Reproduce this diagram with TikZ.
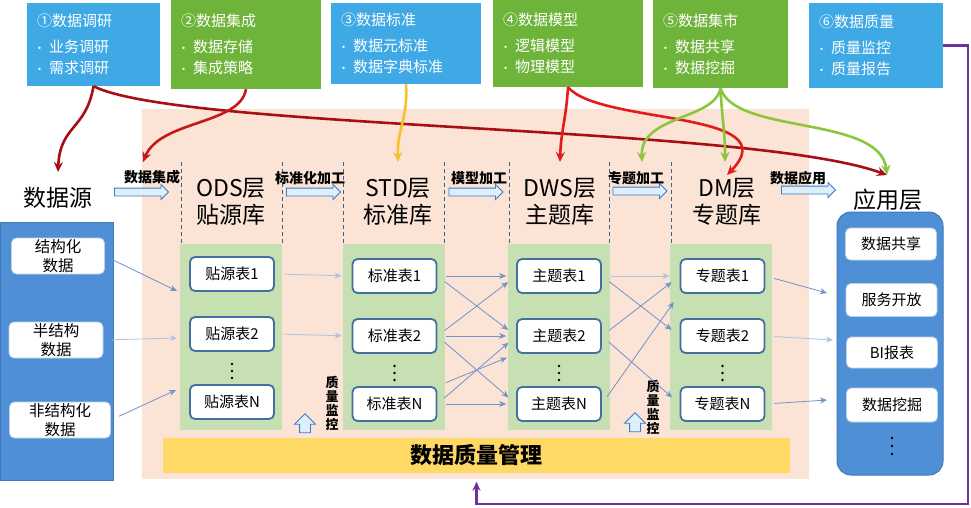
\documentclass[tikz,border=0pt]{standalone}
\usepackage{fontspec}
\setmainfont{Noto Sans CJK SC}
\usetikzlibrary{arrows.meta,shapes.arrows}

\definecolor{taskblue}{HTML}{3FA9E6}
\definecolor{taskgreen}{HTML}{6FB43A}
\definecolor{pinkbg}{HTML}{FBE3D6}
\definecolor{colgreen}{HTML}{C6E0B4}
\definecolor{panelblue}{HTML}{4F8FD6}
\definecolor{paneledge}{HTML}{3F78BC}
\definecolor{tabedge}{HTML}{41719C}
\definecolor{linkblue}{HTML}{6E94C8}
\definecolor{faintblue}{HTML}{AFC3DE}
\definecolor{barbg}{HTML}{FFD966}
\definecolor{dashcol}{HTML}{3B6486}
\definecolor{arrowedge}{HTML}{3E7CC0}
\definecolor{arrowfill}{HTML}{DDEFFB}
\definecolor{darkred}{HTML}{A80F14}
\definecolor{midred}{HTML}{C8161D}
\definecolor{brightred}{HTML}{E31B1B}
\definecolor{curveyellow}{HTML}{F6C12C}
\definecolor{curvegreen}{HTML}{8CC63E}
\definecolor{qpurple}{HTML}{7030A0}

\newcommand{\pxfont}[2]{\fontsize{#1}{#2}\selectfont}
\newcommand{\itm}{\makebox[12pt][l]{\hspace{-3pt}\pxfont{11}{11}•}}

\tikzset{
  taskbox/.style={rectangle, inner xsep=10, inner ysep=0, text=white, align=left,
    font=\pxfont{15}{21}, text width=#1},
  layertitle/.style={align=center, font=\pxfont{23}{27}},
  tab/.style={draw=tabedge, line width=1.8pt, rounded corners=5pt, fill=white,
    minimum width=84, minimum height=34, inner sep=0, font=\pxfont{15}{18}},
  srcbox/.style={draw=paneledge!35, line width=0.8pt, rounded corners=5pt, fill=white,
    minimum height=36, inner sep=0, align=center, font=\pxfont{15.5}{19}},
  appbox/.style={draw=paneledge!35, line width=0.8pt, rounded corners=5pt, fill=white,
    minimum width=91, minimum height=32, inner sep=0, font=\pxfont{15}{18}},
  procname/.style={font=\pxfont{14}{14}\bfseries},
  hArrow/.style={single arrow, draw=arrowedge, fill=arrowfill, line width=0.9pt,
    minimum height=54, inner xsep=0, inner ysep=3.5pt, single arrow head extend=3.5pt},
  upArrow/.style={single arrow, shape border rotate=90, draw=arrowedge, fill=arrowfill,
    line width=0.9pt, minimum height=19, inner xsep=5pt, inner ysep=0,
    single arrow head extend=5pt},
  qlabel/.style={align=center, font=\pxfont{13}{14}\bfseries},
  link/.style={draw=linkblue, line width=0.8pt, -{Stealth[length=7pt,width=6pt]},
    shorten <=9pt, shorten >=10pt},
  flink/.style={link, draw=faintblue},
  curve/.style={line width=2.6pt, -{Stealth[length=10pt,width=9pt]}},
}

\begin{document}
\begin{tikzpicture}[x=1pt, y=-1pt]
  \useasboundingbox (0,0) rectangle (971,507);

  % background of the warehouse
  \fill[pinkbg] (142,109) rectangle (809,479);
  \foreach \cx in {180,343,508,670}
    \fill[colgreen] (\cx,244) rectangle ++(102,186);
  \foreach \dx in {181,282,343,444,509,609,671}
    \draw[dashcol, line width=0.6pt, dash pattern=on 4pt off 3pt] (\dx,162) -- (\dx,244);

  \node[fill=barbg, minimum width=627, minimum height=35, inner sep=0,
    font=\pxfont{22}{22}\bfseries] (qbar) at (476.5,455.5) {数据质量管理};

  % task boxes on top
  \node[taskbox=113, fill=taskblue, minimum height=83] (task1) at (93.5,44.5)
    {①数据调研\\[5pt]\itm 业务调研\\\itm 需求调研};
  \node[taskbox=130, fill=taskgreen, minimum height=89] (task2) at (246,44.5)
    {②数据集成\\[5pt]\itm 数据存储\\\itm 集成策略};
  \node[taskbox=130, fill=taskblue, minimum height=81] (task3) at (406,43.5)
    {③数据标准\\[5pt]\itm 数据元标准\\\itm 数据字典标准};
  \node[taskbox=130, fill=taskgreen, minimum height=87] (task4) at (568,43.5)
    {④数据模型\\[5pt]\itm 逻辑模型\\\itm 物理模型};
  \node[taskbox=115, fill=taskgreen, minimum height=88] (task5) at (720.5,44)
    {⑤数据集市\\[5pt]\itm 数据共享\\\itm 数据挖掘};
  \node[taskbox=114, fill=taskblue, minimum height=85] (task6) at (876,45.5)
    {⑥数据质量\\[5pt]\itm 质量监控\\\itm 质量报告};

  % layer titles
  \node[layertitle] (srcTitle) at (58,198) {数据源};
  \node[layertitle] (odsTitle) at (231,201.5) {ODS层\\贴源库};
  \node[layertitle] (stdTitle) at (398,201.5) {STD层\\标准库};
  \node[layertitle] (dwsTitle) at (560,201.5) {DWS层\\主题库};
  \node[layertitle] (dmTitle) at (727,201.5) {DM层\\专题库};
  \node[layertitle] (appTitle) at (888,200) {应用层};

  % process arrows
  \node[hArrow] (intArrow) at (139.5,192) {};
  \node[hArrow] (stdArrow) at (311.5,192) {};
  \node[hArrow] (mdlArrow) at (474,192) {};
  \node[hArrow] (topArrow) at (638,191) {};
  \node[hArrow] (useArrow) at (806.5,190) {};
  \node[procname] (intLabel) at (152,177) {数据集成};
  \node[procname] (stdLabel) at (310,178) {标准化加工};
  \node[procname] (mdlLabel) at (479,178) {模型加工};
  \node[procname] (topLabel) at (636,178) {专题加工};
  \node[procname] (useLabel) at (798,178) {数据应用};

  % source panel
  \node[fill=panelblue, draw=paneledge, minimum width=113, minimum height=258,
    inner sep=0] (srcPanel) at (56.5,351) {};
  \node[srcbox, minimum width=93] (src1) at (58,256) {结构化\\数据};
  \node[srcbox, minimum width=94] (src2) at (56,340) {半结构\\数据};
  \node[srcbox, minimum width=101] (src3) at (60,420) {非结构化\\数据};

  % application panel
  \node[fill=panelblue, draw=paneledge, line width=1pt, rounded corners=14pt,
    minimum width=106, minimum height=263, inner sep=0] (appPanel) at (890,343.5) {};
  \node[appbox] (app1) at (891,244) {数据共享};
  \node[appbox, minimum height=33] (app2) at (891.5,300) {服务开放};
  \node[appbox, minimum height=31] (app3) at (892,352.5) {BI报表};
  \node[appbox, minimum height=34] (app4) at (892,405) {数据挖掘};
  \foreach \dy in {438,446,454}
    \fill (892,\dy) circle (1.3pt);

  % tables
  \foreach \nm/\cx/\cy/\lab in {ods/232/274/贴源表, std/394.5/276/标准表,
                                 dws/559/276/主题表, dm/722.5/276/专题表} {
    \node[tab] (\nm1) at (\cx,\cy) {\lab1};
    \node[tab] (\nm2) at (\cx,\cy+60) {\lab2};
    \node[tab] (\nm n) at (\cx,\cy+128) {\lab N};
    \foreach \dy in {90,97,104}
      \fill (\cx,\cy+\dy) circle (1.3pt);
  }

  % quality monitoring marks
  \node[upArrow] (qup1) at (305,426) {};
  \node[upArrow] (qup2) at (635,425) {};
  \node[qlabel] (qlab1) at (332,403) {质\\量\\监\\控};
  \node[qlabel] (qlab2) at (653,407) {质\\量\\监\\控};

  % data flow between layers
  \coordinate (odsIn1) at (177,291);
  \coordinate (odsIn2) at (177,338);
  \coordinate (odsIn3) at (176,390);
  \draw[link, shorten >=0pt] (src1.east) -- (odsIn1);
  \draw[flink, shorten >=0pt] (src2.east) -- (odsIn2);
  \draw[link, shorten >=0pt] (src3.east) -- (odsIn3);

  \draw[flink] (ods1.east) -- (std1.west);
  \draw[flink] (ods2.east) -- (std2.west);

  \draw[link] (std1.east) -- (dws1.west);
  \draw[link] (std1.east) -- (dws2.west);
  \draw[link] (std2.east) -- (dws1.west);
  \draw[link] (std2.east) -- (dws2.west);
  \draw[link] (std2.east) -- (dwsn.west);
  \draw[link] (stdn.north east) -- (dws2.south west);
  \draw[link] (stdn.east) -- (dws2.west);
  \draw[link] (stdn.east) -- (dwsn.west);

  \draw[flink] (dws1.east) -- (dm1.west);
  \draw[link] (dws1.east) -- (dm2.west);
  \draw[link] (dws2.east) -- (dm1.west);
  \draw[link] (dws2.east) -- (dmn.west);
  \draw[link] (dwsn.east) -- (dm1.south west);

  \coordinate (appIn1) at (827,293);
  \coordinate (appIn2) at (833,340);
  \coordinate (appIn3) at (827,400);
  \draw[link, shorten >=0pt] (dm1.east) -- (appIn1);
  \draw[flink, shorten >=0pt] (dm2.east) -- (appIn2);
  \draw[link, shorten >=0pt] (dmn.east) -- (appIn3);

  % curves from the tasks
  \coordinate (srcTip) at (58,172);
  \coordinate (intTip) at (143,162);
  \coordinate (stdTip) at (398,162);
  \coordinate (dwsTip) at (560,162);
  \coordinate (topTip) at (642,162);
  \coordinate (dmTipA) at (727,175);
  \coordinate (dmTipB) at (725,162);
  \coordinate (appTip) at (887,175);

  \draw[curve, darkred] (task1.south) .. controls (86,130) and (60,125) .. (srcTip);
  \draw[curve, darkred] (task1.south) .. controls (180,130) and (750,125) .. (appTip);
  \draw[curve, midred] (task2.south) .. controls (240,125) and (160,120) .. (intTip);
  \draw[curve, curveyellow] (task3.south) .. controls (408,120) and (397,128) .. (stdTip);
  \draw[curve, brightred] (task4.south) .. controls (566,120) and (561,130) .. (dwsTip);
  \draw[curve, brightred] (task4.south) .. controls (600,125) and (790,110) .. (dmTipA);
  \draw[curve, curvegreen] (task5.south) .. controls (715,120) and (640,115) .. (topTip);
  \draw[curve, curvegreen] (task5.south) .. controls (722,120) and (725,130) .. (dmTipB);
  \draw[curve, curvegreen] (task5.south) .. controls (735,135) and (880,115) .. (appTip);

  % quality feedback
  \coordinate (qCorner) at (968,504);
  \draw[qpurple, line width=2.2pt, -{Stealth[length=9pt,width=8pt]}, shorten >=8.5pt]
    (task6.east) -| (qCorner) -| (qbar.south);
\end{tikzpicture}
\end{document}
